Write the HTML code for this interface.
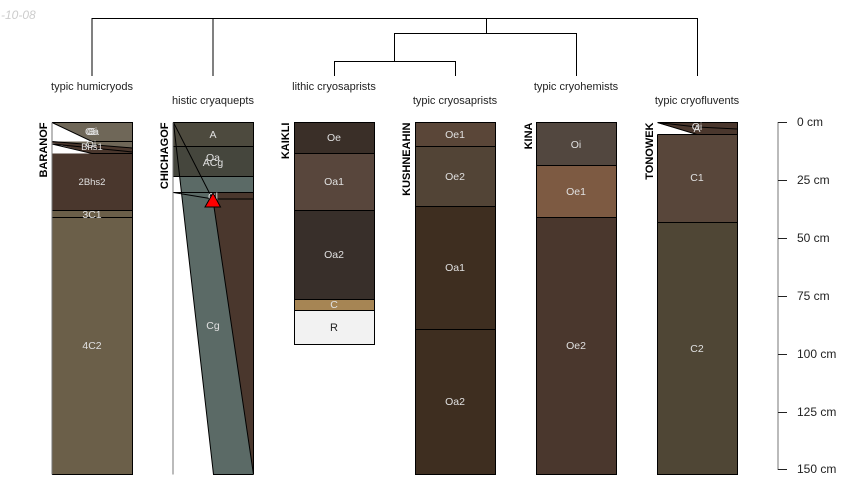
<!DOCTYPE html>
<html><head><meta charset="utf-8"><style>
html,body{margin:0;padding:0;background:#fff}
svg{display:block}
text{font-family:"Liberation Sans",sans-serif}
.t{font-size:11px;fill:#222;text-anchor:middle}
.h{font-size:10.5px;fill:#e0e0e0;text-anchor:middle}
.s{font-size:9.5px}
.n{font-size:11px;font-weight:bold;fill:#000;text-anchor:end}
.a{font-size:12px;fill:#222}
</style></head><body>
<svg width="850" height="500" viewBox="0 0 850 500" xmlns="http://www.w3.org/2000/svg">
<text x="1" y="19" font-size="12" font-style="italic" fill="#ccc" style="font-size:12px">-10-08</text>
<g fill="none" stroke="#000" stroke-width="1">
<path d="M92 76V18.5H697.5V76"/><path d="M213 18.5V76"/><path d="M486.5 18.5V33.5"/>
<path d="M394.5 61V33.5H576.5V76"/><path d="M334.5 76V61.5H455.5V76"/>
</g>
<text class="t" x="92" y="90">typic humicryods</text>
<text class="t" x="213" y="104">histic cryaquepts</text>
<text class="t" x="334" y="90">lithic cryosaprists</text>
<text class="t" x="455" y="104">typic cryosaprists</text>
<text class="t" x="576" y="90">typic cryohemists</text>
<text class="t" x="697" y="104">typic cryofluvents</text>

<!-- BARANOF -->
<g stroke="#000" stroke-width="1">
<rect x="52" y="122.5" width="80.5" height="352" fill="#6b5f49" stroke="none"/>
<polygon points="52,122.5 132.5,122.5 132.5,141.5 92,141.5" fill="#6f6758" stroke="none"/>
<polygon points="52,122.5 92,141.5 52,141.5" fill="#fff" stroke="none"/>
<polygon points="52,141.5 132.5,141.5 132.5,153.5 52,153.5" fill="#4a372d" stroke="none"/>
<polygon points="52,141.5 132.5,141.5 132.5,148" fill="#6f6758" stroke="none"/>
<polygon points="52,143 92,153.5 52,153.5" fill="#fff" stroke="none"/>
<rect x="52" y="153.5" width="80.5" height="57" fill="#4a372d" stroke="none"/>
<path d="M52 122.5L92 141.5H132.5M52 141.5L132.5 148M52 144L92 153.5H132.5M52 144L132.5 152M52 210.5H132.5M52 217.5H132.5" fill="none"/>
<path d="M52 122.5H132.5V474.5H52" fill="none"/>
<path d="M52 122.5V474.5" fill="none" stroke="#777"/>
</g>
<text class="h" x="92" y="135">Oi</text><text class="h" x="92" y="135">Oa</text><text class="h" x="92" y="135">E</text>
<text class="h" x="91" y="148">Oi</text><text class="h s" x="92" y="150">Bhs1</text>
<text class="h s" x="92" y="185">2Bhs2</text>
<text class="h" x="92" y="218">3C1</text>
<text class="h" x="92" y="349">4C2</text>
<text class="n" transform="translate(47,122.5) rotate(-90)">BARANOF</text>

<!-- CHICHAGOF -->
<g stroke="#000" stroke-width="1">
<polygon points="173.5,122.5 253.5,122.5 253.5,474.5 213.5,474.5" fill="#5b6a66" stroke="none"/>
<polygon points="214,192.5 253.5,192.5 253.5,474.5 213,200" fill="#4a372d" stroke="none"/>
<rect x="173.5" y="122.5" width="80" height="24" fill="#4d4a3e" stroke="none"/>
<rect x="173.5" y="146.5" width="80" height="30" fill="#45463d" stroke="none"/>
<path d="M173.5 122.5L213.5 474.5H253.5M173.5 122.5L213 200M213 200L253.5 474.5M173.5 146.5H253.5M173.5 176.5H253.5M173.5 192.5H253.5M173.5 192.5L213 199H253.5" fill="none"/>
<path d="M173 122.5H253.5V474.5" fill="none"/>
<path d="M173 122.5V474.5" fill="none" stroke="#777"/>
</g>
<text class="h" x="213" y="138">A</text>
<text class="h" x="213" y="161">Oa</text><text class="h" x="213" y="166">ACg</text>
<text class="h" x="213" y="200">Cl</text><text class="h" x="213" y="329">Cg</text>
<polygon points="213,193 205,207 220.5,207" fill="#f00" stroke="#000"/>
<text class="n" transform="translate(168,122.5) rotate(-90)">CHICHAGOF</text>

<!-- KAIKLI -->
<g stroke="#000" stroke-width="1">
<rect x="294.5" y="122.5" width="80" height="31" fill="#3a2f28"/>
<rect x="294.5" y="153.5" width="80" height="57" fill="#58463c"/>
<rect x="294.5" y="210.5" width="80" height="89" fill="#382f2a"/>
<rect x="294.5" y="299.5" width="80" height="11" fill="#a68554"/>
<rect x="294.5" y="310.5" width="80" height="34" fill="#f2f2f2"/>
</g>
<text class="h" x="334" y="141">Oe</text><text class="h" x="334" y="185">Oa1</text><text class="h" x="334" y="258">Oa2</text>
<text class="h" x="334" y="308">C</text><text class="t" x="334" y="331">R</text>
<text class="n" transform="translate(289,122.5) rotate(-90)">KAIKLI</text>

<!-- KUSHNEAHIN -->
<g stroke="#000" stroke-width="1">
<rect x="415.5" y="122.5" width="80" height="24" fill="#5a4638"/>
<rect x="415.5" y="146.5" width="80" height="60" fill="#524436"/>
<rect x="415.5" y="206.5" width="80" height="123" fill="#3e2e20"/>
<rect x="415.5" y="329.5" width="80" height="145" fill="#3e2e20"/>
</g>
<text class="h" x="455" y="138">Oe1</text><text class="h" x="455" y="180">Oe2</text><text class="h" x="455" y="271">Oa1</text><text class="h" x="455" y="405">Oa2</text>
<text class="n" transform="translate(410,122.5) rotate(-90)">KUSHNEAHIN</text>

<!-- KINA -->
<g stroke="#000" stroke-width="1">
<rect x="536.5" y="122.5" width="80" height="43" fill="#52473f"/>
<rect x="536.5" y="165.5" width="80" height="52" fill="#7d5a42"/>
<rect x="536.5" y="217.5" width="80" height="257" fill="#4a372d"/>
</g>
<text class="h" x="576" y="148">Oi</text><text class="h" x="576" y="195">Oe1</text><text class="h" x="576" y="349">Oe2</text>
<text class="n" transform="translate(532,122.5) rotate(-90)">KINA</text>

<!-- TONOWEK -->
<g stroke="#000" stroke-width="1">
<rect x="657.5" y="122.5" width="80" height="12" fill="#4a372d" stroke="none"/>
<polygon points="657.5,123 697,134.5 657.5,134.5" fill="#fff" stroke="none"/>
<path d="M657.5 122.5L697 134.5H737.5M657.5 122.5L697 127L737.5 129" fill="none"/>
<rect x="657.5" y="134.5" width="80" height="88" fill="#58463a" stroke="none"/>
<rect x="657.5" y="222.5" width="80" height="252" fill="#4f4635"/>
<path d="M657.5 134.5H737.5M657.5 122.5H737.5V222.5M657.5 134.5V222.5" fill="none"/>
</g>
<text class="h" x="697" y="130">Oi</text><text class="h" x="697" y="132">A</text>
<text class="h" x="697" y="181">C1</text><text class="h" x="697" y="352">C2</text>
<text class="n" transform="translate(653,122.5) rotate(-90)">TONOWEK</text>

<!-- axis -->
<g fill="none" stroke="#000">
<path d="M778 122V470" stroke="#777"/>
<path d="M778 122.5H787M778 180.5H787M778 238.5H787M778 296.5H787M778 354.5H787M778 412.5H787M778 469.5H787" stroke="#222"/>
</g>
<text class="a" x="797" y="126">0 cm</text>
<text class="a" x="797" y="184">25 cm</text>
<text class="a" x="797" y="242">50 cm</text>
<text class="a" x="797" y="300">75 cm</text>
<text class="a" x="797" y="358">100 cm</text>
<text class="a" x="797" y="416">125 cm</text>
<text class="a" x="797" y="473">150 cm</text>
</svg>
</body></html>
